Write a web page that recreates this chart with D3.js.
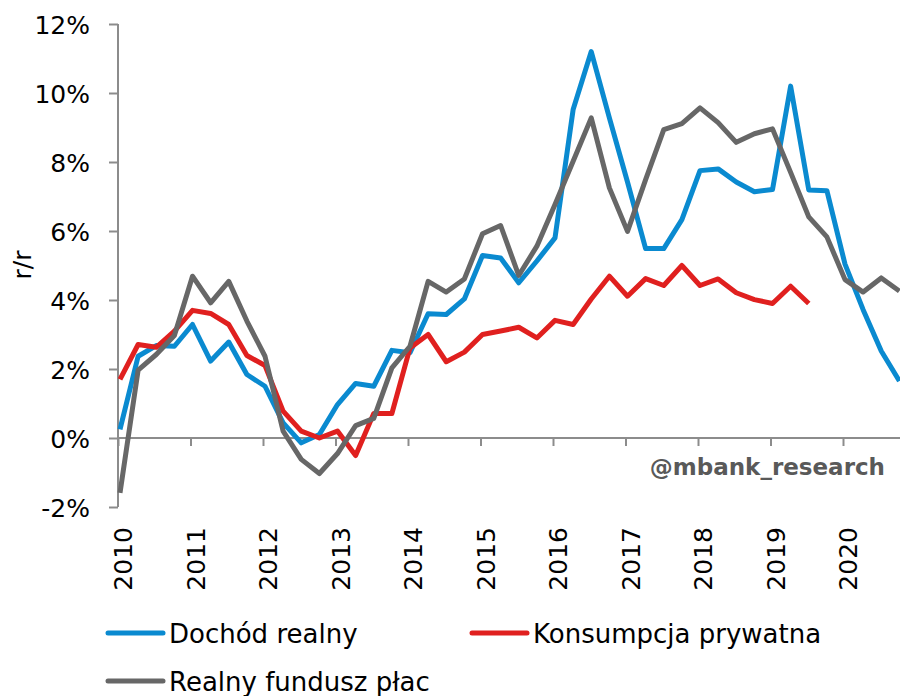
<!DOCTYPE html>
<html>
<head>
<meta charset="utf-8">
<script src="https://cdn.jsdelivr.net/npm/d3@7"></script>
<style>
  body { margin: 0; background: #fff; }
  text { font-family: "DejaVu Sans", Verdana, sans-serif; fill: #000; }
</style>
</head>
<body>
<div id="chart"></div>
<script>
// quarterly data, 2010 Q1 .. 2020 Q4
const startYear = 2010;
const yearTicks = [2010, 2011, 2012, 2013, 2014, 2015, 2016, 2017, 2018, 2019, 2020];
const yTicks = [-2, 0, 2, 4, 6, 8, 10, 12];

const dochodRealny = [
  0.25, 2.37, 2.68, 2.66, 3.29, 2.23, 2.78, 1.84, 1.50, 0.44, -0.14, 0.10,
  0.97, 1.58, 1.50, 2.54, 2.47, 3.60, 3.58, 4.03, 5.29, 5.22, 4.50, 5.13,
  5.80, 9.52, 11.2, 9.28, 7.42, 5.49, 5.49, 6.33, 7.75, 7.80, 7.42, 7.14,
  7.20, 10.2, 7.19, 7.17, 5.04, 3.72, 2.52, 1.65
];
const konsumpcja = [
  1.70, 2.71, 2.63, 3.10, 3.70, 3.61, 3.29, 2.39, 2.10, 0.78, 0.20, 0.00,
  0.20, -0.51, 0.71, 0.71, 2.61, 3.00, 2.21, 2.49, 3.00, 3.10, 3.21, 2.90,
  3.41, 3.29, 4.03, 4.69, 4.11, 4.62, 4.42, 5.00, 4.42, 4.61, 4.21, 4.01,
  3.90, 4.40, 3.90
];
const funduszPlac = [
  -1.59, 1.97, 2.42, 2.97, 4.69, 3.92, 4.54, 3.39, 2.37, 0.20, -0.62, -1.03,
  -0.45, 0.36, 0.57, 2.03, 2.66, 4.54, 4.23, 4.61, 5.92, 6.16, 4.71, 5.56,
  6.77, 8.02, 9.28, 7.25, 5.99, 7.49, 8.94, 9.11, 9.57, 9.14, 8.57, 8.82,
  8.96, 7.70, 6.41, 5.83, 4.59, 4.23, 4.64, 4.26
];

const series = [
  { name: 'Dochód realny', values: dochodRealny, color: '#0a8ad0' },
  { name: 'Konsumpcja prywatna', values: konsumpcja, color: '#e0201f' },
  { name: 'Realny fundusz płac', values: funduszPlac, color: '#676767' }
];

const width = 900;
const height = 696;
const axisColor = '#8c8c8c';

const svg = d3.select('#chart')
  .append('svg')
  .attr('width', width)
  .attr('height', height);

const x = d3.scaleLinear().domain([2010, 2021]).range([118, 915.5]);
const y = d3.scaleLinear().domain([-2, 12]).range([507, 24]);

// y axis
const yAxis = svg.append('g')
  .attr('transform', 'translate(118,0)')
  .call(d3.axisLeft(y).tickValues(yTicks).tickSize(9).tickFormat(d => d + '%'));
yAxis.select('.domain').attr('stroke', axisColor).attr('stroke-width', 2).attr('d', 'M0,24V507');
yAxis.selectAll('.tick line').attr('stroke', axisColor).attr('stroke-width', 2);
yAxis.selectAll('.tick text')
  .attr('x', -28)
  .attr('dy', '0.36em')
  .style('font-size', '25px')
  .style('font-family', '"DejaVu Sans", sans-serif')
  .attr('fill', '#000');

// x axis on the 0% line
const xAxis = svg.append('g')
  .attr('transform', 'translate(0,' + y(0) + ')')
  .call(d3.axisBottom(x).tickValues(yearTicks).tickSize(8).tickFormat(''));
xAxis.select('.domain').attr('stroke', axisColor).attr('stroke-width', 2).attr('d', 'M118,0H900');
xAxis.selectAll('.tick line').attr('stroke', axisColor).attr('stroke-width', 2);

// year labels under the plot
svg.selectAll('.year')
  .data(yearTicks)
  .enter()
  .append('text')
  .attr('class', 'year')
  .attr('transform', d => 'translate(' + (x(d) + 14) + ',527) rotate(-90)')
  .attr('text-anchor', 'end')
  .style('font-size', '25px')
  .text(d => d);

svg.append('text')
  .attr('transform', 'translate(31,265) rotate(-90)')
  .attr('text-anchor', 'middle')
  .style('font-size', '25px')
  .text('r/r');

svg.append('text')
  .attr('x', 885)
  .attr('y', 475)
  .attr('text-anchor', 'end')
  .style('font-size', '23px')
  .style('font-weight', 'bold')
  .style('fill', '#595959')
  .text('@mbank_research');

// lines (points sit a touch right of the year ticks, as in the source)
const dataShift = 2;
const line = d3.line()
  .x((d, i) => x(startYear + i / 4) + dataShift)
  .y(d => y(d));

svg.append('defs').append('clipPath').attr('id', 'clip')
  .append('rect').attr('x', 0).attr('y', 0).attr('width', 900).attr('height', 520);

svg.append('g')
  .attr('clip-path', 'url(#clip)')
  .selectAll('path')
  .data(series)
  .enter()
  .append('path')
  .attr('d', d => line(d.values))
  .attr('fill', 'none')
  .attr('stroke', d => d.color)
  .attr('stroke-width', 5)
  .attr('stroke-linejoin', 'round');

// legend
const legendPos = [
  { x: 108, y: 633 },
  { x: 472, y: 633 },
  { x: 108, y: 681 }
];
const legend = svg.selectAll('.legend')
  .data(series)
  .enter()
  .append('g')
  .attr('class', 'legend')
  .attr('transform', (d, i) => 'translate(' + legendPos[i].x + ',' + legendPos[i].y + ')');

legend.append('line')
  .attr('x1', 0)
  .attr('x2', 55)
  .attr('stroke', d => d.color)
  .attr('stroke-width', 5)
  .attr('stroke-linecap', 'round');

legend.append('text')
  .attr('x', 61)
  .attr('y', 10)
  .style('font-size', '26px')
  .text(d => d.name);
</script>
</body>
</html>
